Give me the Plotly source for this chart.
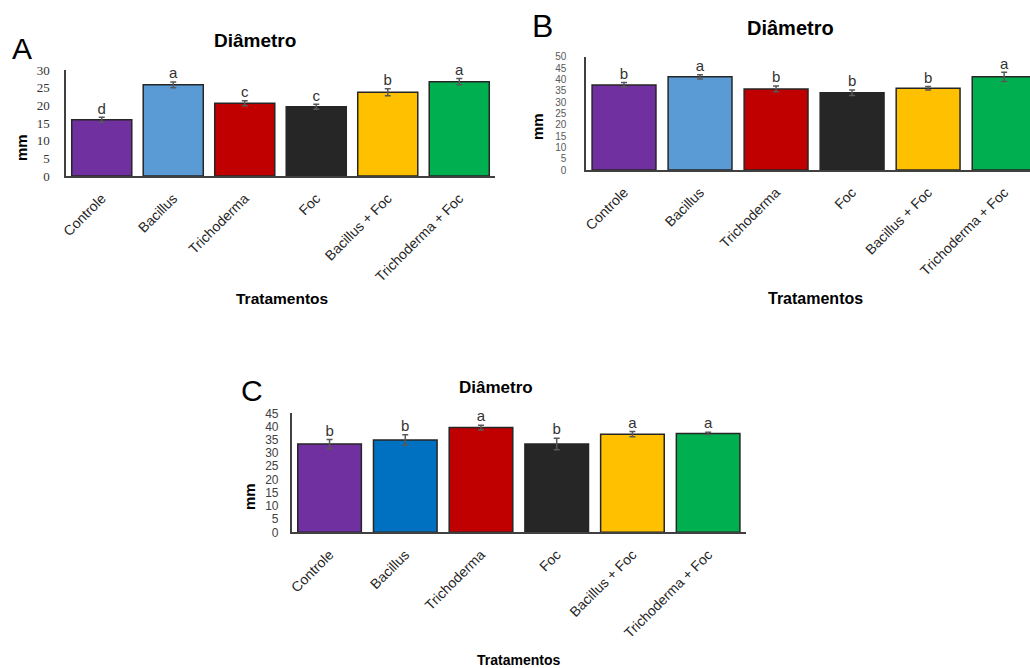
import plotly.graph_objects as go

W, H = 1030, 668

categories = ["Controle", "Bacillus", "Trichoderma", "Foc", "Bacillus + Foc", "Trichoderma + Foc"]

a_values = [15.9, 25.8, 20.6, 19.6, 23.7, 26.7]
a_errors = [0.7, 0.8, 0.7, 0.7, 1.0, 0.9]
a_letters = ["d", "a", "c", "c", "b", "a"]

b_values = [37.5, 41.1, 35.8, 34.1, 36.1, 41.1]
b_errors = [1.1, 0.9, 1.3, 1.2, 0.8, 2.0]
b_letters = ["b", "a", "b", "b", "b", "a"]

c_values = [33.4, 34.9, 39.6, 33.4, 37.1, 37.4]
c_errors = [1.7, 2.0, 0.9, 2.2, 1.0, 0.45]
c_letters = ["b", "b", "a", "b", "a", "a"]

colors_ab = ["#7030A0", "#5B9BD5", "#C00000", "#262626", "#FFC000", "#00B050"]
colors_c = ["#7030A0", "#0070C0", "#C00000", "#262626", "#FFC000", "#00B050"]

SANS = "Liberation Sans, Arial, sans-serif"
SERIF = "Liberation Serif, Times New Roman, serif"

fig = go.Figure()

def px_x(p):
    return p / W

def px_y(p):
    return 1 - p / H

panels = [
    dict(x="x", y="y", vals=a_values, errs=a_errors, letters=a_letters, colors=colors_ab,
         xdom=[px_x(66), px_x(495)], ydom=[px_y(176), px_y(70)], yrange=[0, 30], dtick=5,
         xrange=[-0.5, 5.5], tickfont=dict(family=SERIF, size=13, color="#333333"), standoff=12),
    dict(x="x2", y="y2", vals=b_values, errs=b_errors, letters=b_letters, colors=colors_ab,
         xdom=[px_x(586), 1.0], ydom=[px_y(170), px_y(56.7)], yrange=[0, 50], dtick=5,
         xrange=[-0.5, 5.34], tickfont=dict(family=SANS, size=10, color="#595959"), standoff=16),
    dict(x="x3", y="y3", vals=c_values, errs=c_errors, letters=c_letters, colors=colors_c,
         xdom=[px_x(291.7), px_x(746)], ydom=[px_y(532.3), px_y(413.3)], yrange=[0, 45], dtick=5,
         xrange=[-0.5, 5.5], tickfont=dict(family=SANS, size=12, color="#404040"), standoff=9),
]

for i, p in enumerate(panels):
    fig.add_trace(go.Bar(
        x=categories, y=p["vals"], xaxis=p["x"], yaxis=p["y"],
        marker=dict(color=p["colors"], line=dict(color="#262626", width=1.5)),
        error_y=dict(type="data", array=p["errs"], visible=True, color="#595959",
                     thickness=1.5, width=3),
        showlegend=False, hoverinfo="skip",
    ))
    fig.add_trace(go.Scatter(
        x=categories, y=[v + e for v, e in zip(p["vals"], p["errs"])],
        xaxis=p["x"], yaxis=p["y"], mode="text", text=p["letters"],
        textposition="top center",
        textfont=dict(family=SANS, size=15, color="#333333"),
        showlegend=False, hoverinfo="skip", cliponaxis=False,
    ))
    suffix = "" if i == 0 else str(i + 1)
    fig.layout["xaxis" + suffix] = dict(
        domain=p["xdom"], anchor=p["y"], range=p["xrange"], showline=True,
        linecolor="#404040", linewidth=1.5, showgrid=False, zeroline=False, ticks="",
        tickangle=-45, tickfont=dict(family=SANS, size=14, color="#262626"),
        ticklabelstandoff=7, fixedrange=True, automargin=False,
    )
    fig.layout["yaxis" + suffix] = dict(
        domain=p["ydom"], anchor=p["x"], range=p["yrange"], dtick=p["dtick"], showline=True,
        linecolor="#404040", linewidth=1.5, showgrid=False, zeroline=False, ticks="",
        tickfont=p["tickfont"], ticklabelstandoff=p["standoff"], fixedrange=True,
        automargin=False,
    )

fig.update_layout(bargap=0.16)

annotations = []

def ann(text, x, y, size, bold=False, angle=0, color="#000000"):
    annotations.append(dict(
        text=f"<b>{text}</b>" if bold else text, x=px_x(x), y=px_y(y),
        xref="paper", yref="paper", showarrow=False, textangle=angle,
        xanchor="center", yanchor="middle",
        font=dict(family=SANS, size=size, color=color),
    ))

# panel letters
ann("A", 22, 48, 30)
ann("B", 542, 26, 32)
ann("C", 252, 390, 30)
# titles
ann("Diâmetro", 255, 40, 19, bold=True)
ann("Diâmetro", 790, 28, 20, bold=True)
ann("Diâmetro", 496, 387, 17, bold=True)
# y titles
ann("mm", 22, 148, 15, bold=True, angle=-90)
ann("mm", 538, 127, 15, bold=True, angle=-90)
ann("mm", 250, 497, 15, bold=True, angle=-90)
# x titles
ann("Tratamentos", 282, 298, 15.5, bold=True)
ann("Tratamentos", 815, 298, 16, bold=True)
ann("Tratamentos", 518, 660, 14, bold=True)

fig.update_layout(
    width=W, height=H, margin=dict(l=0, r=0, t=0, b=0, autoexpand=False),
    paper_bgcolor="white", plot_bgcolor="white",
    annotations=annotations,
)

fig.write_html(
    "out.html",
    config={"displayModeBar": False},
    post_script="document.body.style.margin='0';document.body.style.overflow='hidden';",
)
